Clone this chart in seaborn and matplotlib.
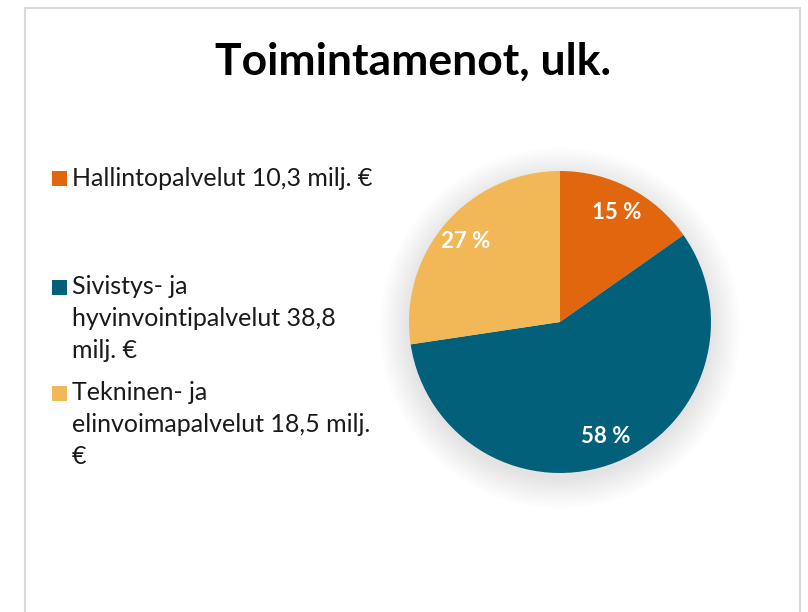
import matplotlib
matplotlib.use("Agg")
import matplotlib.pyplot as plt
import seaborn as sns
from matplotlib.patches import Circle, Rectangle

# data
categories = ["Hallintopalvelut", "Sivistys- ja hyvinvointipalvelut", "Tekninen- ja elinvoimapalvelut"]
values = [10.3, 38.8, 18.5]  # milj. €
pct_labels = ["15 %", "58 %", "27 %"]
legend_labels = [
    "Hallintopalvelut 10,3 milj. €",
    "Sivistys- ja\nhyvinvointipalvelut 38,8\nmilj. €",
    "Tekninen- ja\nelinvoimapalvelut 18,5 milj.\n€",
]
colors = sns.color_palette(["#E2660E", "#03607A", "#F2B857"])

sns.set_theme(style="white")
plt.rcParams["font.family"] = ["Lato", "DejaVu Sans"]

W, H = 808, 612
fig = plt.figure(figsize=(W / 100, H / 100), dpi=100)
fig.patch.set_facecolor("white")

# chart frame
fig.patches.append(Rectangle((25 / W, -0.05), 775 / W, 1.05 - 8 / H,
                             transform=fig.transFigure, fill=False,
                             edgecolor="#D9D9D9", linewidth=1.5))

fig.text(413 / W, 1 - 62 / H, "Toimintamenot, ulk.", ha="center", va="center",
         fontsize=32, fontweight="bold", color="black")

# pie axes, centre at (560, 322) px, radius 151 px
half = 200
ax = fig.add_axes([(560 - half) / W, 1 - (322 + half) / H, 2 * half / W, 2 * half / H])
lim = half / 151

# soft shadow
for i in range(14):
    ax.add_patch(Circle((0, -0.04), 1.0 + i * 0.015, color="#000000",
                        alpha=0.008, linewidth=0, zorder=0))

it = iter(pct_labels)
wedges, texts, autotexts = ax.pie(values, colors=colors, startangle=90, counterclock=False,
                                  autopct=lambda p: next(it), pctdistance=0.82,
                                  wedgeprops=dict(linewidth=0), frame=False)
for t in autotexts:
    t.set_color("white")
    t.set_fontweight("bold")
    t.set_fontsize(16)

ax.set_xlim(-lim, lim)
ax.set_ylim(-lim, lim)
ax.set_aspect("equal")
ax.axis("off")

# legend drawn by hand to follow the original spacing
legend_y = [178, 287, 393]
line_h = 32
for lab, col, y in zip(legend_labels, colors, legend_y):
    fig.patches.append(Rectangle((52 / W, 1 - (y + 7.5) / H), 15 / W, 15 / H,
                                 transform=fig.transFigure, facecolor=col, edgecolor="none"))
    for k, line in enumerate(lab.split("\n")):
        fig.text(72 / W, 1 - (y + k * line_h) / H, line, ha="left", va="center",
                 fontsize=18, color="#1a1a1a")

fig.savefig("out.png", dpi=100, facecolor="white")
